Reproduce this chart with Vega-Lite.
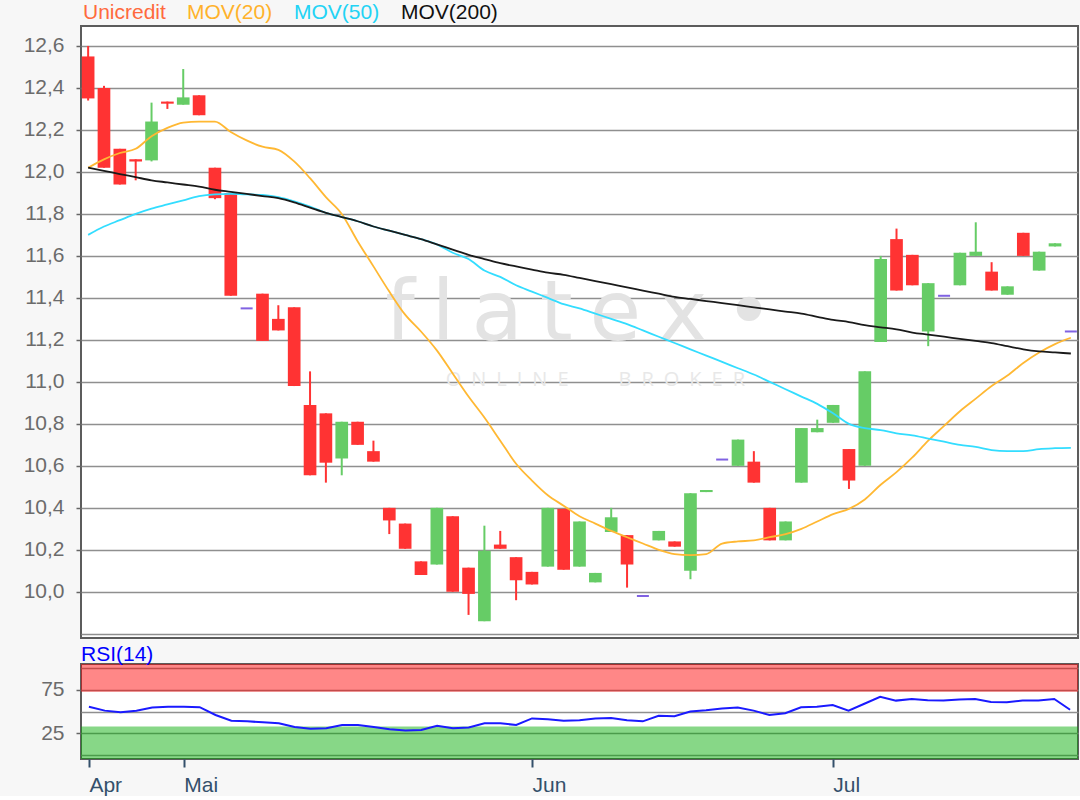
{
  "$schema": "https://vega.github.io/schema/vega-lite/v6.json",
  "background": "#f7f7f7",
  "padding": {"left": 22, "top": 2, "right": 2, "bottom": 0},
  "spacing": 4,
  "config": {
    "font": "Liberation Sans",
    "view": {"fill": "white", "stroke": "#5c5c5c", "strokeWidth": 2},
    "axis": {"labelFont": "Liberation Sans", "labelFontSize": 21, "domain": false, "title": null}
  },
  "datasets": {
    "d": [
      {"date":"2019-04-23","open":12.55,"high":12.6,"low":12.34,"close":12.35,"MOV(20)":12.02,"MOV(50)":11.7,"MOV(200)":12.02,"rsi":55.6},
      {"date":"2019-04-24","open":12.4,"high":12.41,"low":12.02,"close":12.02,"MOV(20)":12.06,"MOV(50)":11.74,"MOV(200)":12.005,"rsi":51},
      {"date":"2019-04-25","open":12.11,"high":12.11,"low":11.94,"close":11.94,"MOV(20)":12.09,"MOV(50)":11.77,"MOV(200)":11.99,"rsi":49},
      {"date":"2019-04-26","open":12.06,"high":12.06,"low":11.96,"close":12.05,"MOV(20)":12.11,"MOV(50)":11.8,"MOV(200)":11.975,"rsi":51},
      {"date":"2019-04-29","open":12.055,"high":12.33,"low":12.05,"close":12.24,"MOV(20)":12.17,"MOV(50)":11.825,"MOV(200)":11.96,"rsi":54.5},
      {"date":"2019-04-30","open":12.335,"high":12.335,"low":12.3,"close":12.325,"MOV(20)":12.21,"MOV(50)":11.845,"MOV(200)":11.95,"rsi":55.5},
      {"date":"2019-05-02","open":12.32,"high":12.49,"low":12.32,"close":12.355,"MOV(20)":12.235,"MOV(50)":11.865,"MOV(200)":11.94,"rsi":55.5},
      {"date":"2019-05-03","open":12.365,"high":12.365,"low":12.27,"close":12.27,"MOV(20)":12.24,"MOV(50)":11.885,"MOV(200)":11.93,"rsi":55},
      {"date":"2019-05-06","open":12.02,"high":12.02,"low":11.87,"close":11.875,"MOV(20)":12.24,"MOV(50)":11.893,"MOV(200)":11.915,"rsi":46},
      {"date":"2019-05-07","open":11.9,"high":11.9,"low":11.41,"close":11.41,"MOV(20)":12.19,"MOV(50)":11.895,"MOV(200)":11.905,"rsi":39.4},
      {"date":"2019-05-08","open":11.35,"high":11.35,"low":11.35,"close":11.35,"MOV(20)":12.15,"MOV(50)":11.893,"MOV(200)":11.895,"rsi":38.6},
      {"date":"2019-05-09","open":11.42,"high":11.42,"low":11.195,"close":11.195,"MOV(20)":12.12,"MOV(50)":11.89,"MOV(200)":11.885,"rsi":37.5},
      {"date":"2019-05-10","open":11.3,"high":11.365,"low":11.245,"close":11.245,"MOV(20)":12.105,"MOV(50)":11.88,"MOV(200)":11.875,"rsi":36.3},
      {"date":"2019-05-13","open":11.355,"high":11.355,"low":10.98,"close":10.98,"MOV(20)":12.05,"MOV(50)":11.86,"MOV(200)":11.855,"rsi":32},
      {"date":"2019-05-14","open":10.89,"high":11.05,"low":10.555,"close":10.555,"MOV(20)":11.97,"MOV(50)":11.835,"MOV(200)":11.83,"rsi":30},
      {"date":"2019-05-15","open":10.85,"high":10.85,"low":10.52,"close":10.615,"MOV(20)":11.88,"MOV(50)":11.805,"MOV(200)":11.805,"rsi":30.5},
      {"date":"2019-05-16","open":10.635,"high":10.81,"low":10.555,"close":10.81,"MOV(20)":11.8,"MOV(50)":11.785,"MOV(200)":11.785,"rsi":34.4},
      {"date":"2019-05-17","open":10.81,"high":10.81,"low":10.7,"close":10.7,"MOV(20)":11.67,"MOV(50)":11.765,"MOV(200)":11.765,"rsi":34.4},
      {"date":"2019-05-20","open":10.67,"high":10.72,"low":10.62,"close":10.62,"MOV(20)":11.55,"MOV(50)":11.74,"MOV(200)":11.74,"rsi":32},
      {"date":"2019-05-21","open":10.4,"high":10.4,"low":10.275,"close":10.34,"MOV(20)":11.43,"MOV(50)":11.72,"MOV(200)":11.72,"rsi":29.5},
      {"date":"2019-05-22","open":10.325,"high":10.325,"low":10.205,"close":10.205,"MOV(20)":11.32,"MOV(50)":11.7,"MOV(200)":11.7,"rsi":28},
      {"date":"2019-05-23","open":10.145,"high":10.145,"low":10.08,"close":10.08,"MOV(20)":11.24,"MOV(50)":11.68,"MOV(200)":11.68,"rsi":28.5},
      {"date":"2019-05-24","open":10.13,"high":10.4,"low":10.13,"close":10.4,"MOV(20)":11.15,"MOV(50)":11.655,"MOV(200)":11.655,"rsi":33.5},
      {"date":"2019-05-27","open":10.36,"high":10.36,"low":10.0,"close":10.0,"MOV(20)":11.04,"MOV(50)":11.615,"MOV(200)":11.63,"rsi":30.5},
      {"date":"2019-05-28","open":10.115,"high":10.115,"low":9.89,"close":9.99,"MOV(20)":10.93,"MOV(50)":11.585,"MOV(200)":11.605,"rsi":31.5},
      {"date":"2019-05-29","open":9.86,"high":10.315,"low":9.86,"close":10.195,"MOV(20)":10.83,"MOV(50)":11.53,"MOV(200)":11.585,"rsi":36.3},
      {"date":"2019-05-30","open":10.225,"high":10.29,"low":10.205,"close":10.205,"MOV(20)":10.72,"MOV(50)":11.5,"MOV(200)":11.565,"rsi":36.3},
      {"date":"2019-05-31","open":10.165,"high":10.165,"low":9.96,"close":10.055,"MOV(20)":10.61,"MOV(50)":11.46,"MOV(200)":11.55,"rsi":34.4},
      {"date":"2019-06-03","open":10.095,"high":10.095,"low":10.035,"close":10.035,"MOV(20)":10.53,"MOV(50)":11.43,"MOV(200)":11.535,"rsi":42},
      {"date":"2019-06-04","open":10.12,"high":10.4,"low":10.12,"close":10.4,"MOV(20)":10.46,"MOV(50)":11.4,"MOV(200)":11.52,"rsi":41},
      {"date":"2019-06-05","open":10.395,"high":10.395,"low":10.105,"close":10.105,"MOV(20)":10.41,"MOV(50)":11.37,"MOV(200)":11.51,"rsi":39.4},
      {"date":"2019-06-06","open":10.12,"high":10.335,"low":10.12,"close":10.335,"MOV(20)":10.36,"MOV(50)":11.35,"MOV(200)":11.495,"rsi":40},
      {"date":"2019-06-07","open":10.045,"high":10.09,"low":10.045,"close":10.09,"MOV(20)":10.325,"MOV(50)":11.325,"MOV(200)":11.48,"rsi":42},
      {"date":"2019-06-11","open":10.285,"high":10.4,"low":10.285,"close":10.355,"MOV(20)":10.29,"MOV(50)":11.3,"MOV(200)":11.465,"rsi":42.5},
      {"date":"2019-06-12","open":10.27,"high":10.27,"low":10.02,"close":10.13,"MOV(20)":10.26,"MOV(50)":11.275,"MOV(200)":11.45,"rsi":40},
      {"date":"2019-06-13","open":9.98,"high":9.98,"low":9.98,"close":9.98,"MOV(20)":10.23,"MOV(50)":11.245,"MOV(200)":11.435,"rsi":38.6},
      {"date":"2019-06-14","open":10.245,"high":10.29,"low":10.245,"close":10.29,"MOV(20)":10.2,"MOV(50)":11.215,"MOV(200)":11.42,"rsi":45},
      {"date":"2019-06-17","open":10.24,"high":10.24,"low":10.215,"close":10.215,"MOV(20)":10.18,"MOV(50)":11.185,"MOV(200)":11.405,"rsi":44.5},
      {"date":"2019-06-18","open":10.1,"high":10.47,"low":10.06,"close":10.47,"MOV(20)":10.175,"MOV(50)":11.155,"MOV(200)":11.395,"rsi":50},
      {"date":"2019-06-19","open":10.475,"high":10.485,"low":10.475,"close":10.485,"MOV(20)":10.18,"MOV(50)":11.125,"MOV(200)":11.385,"rsi":51.5},
      {"date":"2019-06-20","open":10.63,"high":10.63,"low":10.63,"close":10.63,"MOV(20)":10.23,"MOV(50)":11.095,"MOV(200)":11.375,"rsi":53.5},
      {"date":"2019-06-21","open":10.6,"high":10.725,"low":10.6,"close":10.725,"MOV(20)":10.24,"MOV(50)":11.065,"MOV(200)":11.365,"rsi":54.5},
      {"date":"2019-06-24","open":10.62,"high":10.67,"low":10.52,"close":10.52,"MOV(20)":10.245,"MOV(50)":11.035,"MOV(200)":11.355,"rsi":51},
      {"date":"2019-06-25","open":10.4,"high":10.4,"low":10.245,"close":10.245,"MOV(20)":10.26,"MOV(50)":11.0,"MOV(200)":11.345,"rsi":46},
      {"date":"2019-06-26","open":10.245,"high":10.335,"low":10.245,"close":10.335,"MOV(20)":10.275,"MOV(50)":10.965,"MOV(200)":11.335,"rsi":48},
      {"date":"2019-06-27","open":10.52,"high":10.78,"low":10.52,"close":10.78,"MOV(20)":10.3,"MOV(50)":10.93,"MOV(200)":11.325,"rsi":54.9},
      {"date":"2019-06-28","open":10.76,"high":10.82,"low":10.76,"close":10.78,"MOV(20)":10.335,"MOV(50)":10.895,"MOV(200)":11.31,"rsi":55.5},
      {"date":"2019-07-01","open":10.805,"high":10.89,"low":10.805,"close":10.89,"MOV(20)":10.37,"MOV(50)":10.85,"MOV(200)":11.295,"rsi":57.6},
      {"date":"2019-07-02","open":10.68,"high":10.68,"low":10.49,"close":10.53,"MOV(20)":10.395,"MOV(50)":10.8,"MOV(200)":11.285,"rsi":51},
      {"date":"2019-07-03","open":10.6,"high":11.05,"low":10.6,"close":11.05,"MOV(20)":10.44,"MOV(50)":10.78,"MOV(200)":11.27,"rsi":59},
      {"date":"2019-07-04","open":11.19,"high":11.6,"low":11.19,"close":11.585,"MOV(20)":10.51,"MOV(50)":10.77,"MOV(200)":11.26,"rsi":67},
      {"date":"2019-07-05","open":11.68,"high":11.73,"low":11.435,"close":11.435,"MOV(20)":10.57,"MOV(50)":10.755,"MOV(200)":11.25,"rsi":62.6},
      {"date":"2019-07-08","open":11.605,"high":11.605,"low":11.46,"close":11.46,"MOV(20)":10.64,"MOV(50)":10.745,"MOV(200)":11.235,"rsi":64.5},
      {"date":"2019-07-09","open":11.24,"high":11.47,"low":11.17,"close":11.47,"MOV(20)":10.72,"MOV(50)":10.73,"MOV(200)":11.225,"rsi":63},
      {"date":"2019-07-10","open":11.41,"high":11.41,"low":11.41,"close":11.41,"MOV(20)":10.79,"MOV(50)":10.715,"MOV(200)":11.215,"rsi":62.6},
      {"date":"2019-07-11","open":11.46,"high":11.615,"low":11.46,"close":11.615,"MOV(20)":10.86,"MOV(50)":10.7,"MOV(200)":11.205,"rsi":64},
      {"date":"2019-07-12","open":11.6,"high":11.76,"low":11.6,"close":11.62,"MOV(20)":10.92,"MOV(50)":10.69,"MOV(200)":11.195,"rsi":64.5},
      {"date":"2019-07-15","open":11.525,"high":11.57,"low":11.435,"close":11.435,"MOV(20)":10.98,"MOV(50)":10.675,"MOV(200)":11.185,"rsi":61},
      {"date":"2019-07-16","open":11.415,"high":11.455,"low":11.415,"close":11.455,"MOV(20)":11.03,"MOV(50)":10.67,"MOV(200)":11.17,"rsi":60.7},
      {"date":"2019-07-17","open":11.71,"high":11.71,"low":11.6,"close":11.6,"MOV(20)":11.09,"MOV(50)":10.67,"MOV(200)":11.155,"rsi":62.6},
      {"date":"2019-07-18","open":11.53,"high":11.62,"low":11.53,"close":11.62,"MOV(20)":11.14,"MOV(50)":10.68,"MOV(200)":11.145,"rsi":62.6},
      {"date":"2019-07-19","open":11.645,"high":11.66,"low":11.645,"close":11.66,"MOV(20)":11.18,"MOV(50)":10.684,"MOV(200)":11.14,"rsi":64.5},
      {"date":"2019-07-22","open":11.24,"high":11.24,"low":11.24,"close":11.24,"MOV(20)":11.21,"MOV(50)":10.686,"MOV(200)":11.135,"rsi":52}
    ],
    "bands": [
      {"zone": "ob", "lo": 73, "hi": 105},
      {"zone": "os", "lo": -5, "hi": 32.5}
    ],
    "wm1": [{"t": "f\u200a\u200al\u200a\u200aa\u200a\u200at\u200a\u200ae\u200a\u200ax\u200a\u200a\u2022"}],
    "wm2": [{"t": "O\u2002N\u2002L\u2002I\u2002N\u2002E\u2003\u2003\u2002B\u2002R\u2002O\u2002K\u2002E\u2002R"}]
  },
  "vconcat": [
    {
      "width": 997,
      "height": 612,
      "layer": [
        {
          "data": {"name": "wm1"},
          "mark": {"type": "text", "font": "DejaVu Sans", "fontSize": 84, "color": "#e3e3e3", "align": "center", "baseline": "alphabetic"},
          "encoding": {
            "x": {"datum": "2019-06-06", "type": "ordinal", "scale": {"paddingInner": 0.2, "paddingOuter": 0.05}, "axis": null},
            "y": {"datum": 11.2, "type": "quantitative"},
            "text": {"field": "t"}
          }
        },
        {
          "data": {"name": "wm2"},
          "mark": {"type": "text", "font": "Open Sans", "fontSize": 20, "color": "#e8e8e8", "align": "center", "baseline": "middle"},
          "encoding": {
            "x": {"datum": "2019-06-07", "type": "ordinal"},
            "y": {"datum": 11.01, "type": "quantitative"},
            "text": {"field": "t"}
          }
        },
        {
          "data": {"name": "d"},
          "transform": [{"filter": "datum.high > datum.low"}],
          "mark": {"type": "rule", "strokeWidth": 2},
          "encoding": {
            "x": {"field": "date", "type": "ordinal"},
            "y": {"field": "low", "type": "quantitative"},
            "y2": {"field": "high"},
            "color": {"condition": {"test": "datum.close > datum.open", "value": "#66cc66"}, "value": "#ff3333"}
          }
        },
        {
          "data": {"name": "d"},
          "transform": [{"filter": "datum.open != datum.close"}],
          "mark": {"type": "bar"},
          "encoding": {
            "x": {"field": "date", "type": "ordinal"},
            "y": {"field": "open", "type": "quantitative"},
            "y2": {"field": "close"},
            "color": {"condition": {"test": "datum.close > datum.open", "value": "#66cc66"}, "value": "#ff3333"}
          }
        },
        {
          "data": {"name": "d"},
          "transform": [{"filter": "datum.open == datum.close"}],
          "mark": {"type": "tick", "thickness": 2, "size": 12, "color": "#4a1fd6"},
          "encoding": {
            "x": {"field": "date", "type": "ordinal"},
            "y": {"field": "close", "type": "quantitative"}
          }
        },
        {
          "data": {"name": "d"},
          "transform": [{"fold": ["MOV(20)", "MOV(50)", "MOV(200)"], "as": ["series", "val"]}],
          "mark": {"type": "line", "strokeWidth": 1.8, "interpolate": "monotone"},
          "encoding": {
            "x": {"field": "date", "type": "ordinal"},
            "y": {
              "field": "val", "type": "quantitative",
              "scale": {"domain": [9.78, 12.695], "nice": false, "zero": false},
              "axis": {
                "values": [9.8, 10, 10.2, 10.4, 10.6, 10.8, 11, 11.2, 11.4, 11.6, 11.8, 12, 12.2, 12.4, 12.6],
                "labelExpr": "datum.value < 9.9 ? '' : replace(format(datum.value, '.1f'), '.', ',')",
                "grid": true, "gridColor": "#8f8f8f", "gridWidth": 1.5,
                "tickColor": {"condition": {"test": "datum.value < 9.9", "value": "transparent"}, "value": "#666666"},
                "tickSize": 5, "tickWidth": 1.5, "labelPadding": 12, "labelColor": "#6b6b6b",
                "minExtent": 58, "maxExtent": 58
              }
            },
            "color": {
              "field": "series", "type": "nominal",
              "scale": {"domain": ["Unicredit", "MOV(20)", "MOV(50)", "MOV(200)"], "range": ["#ff6a3d", "#ffb833", "#33ddff", "#1a1a1a"]},
              "legend": {
                "orient": "none", "legendX": -19, "legendY": -24, "direction": "horizontal", "title": null,
                "symbolSize": 0, "symbolStrokeWidth": 0, "symbolOpacity": 0, "labelOffset": 0, "columnPadding": -11,
                "labelFontSize": 21, "labelFont": "Liberation Sans", "labelLimit": 0,
                "encode": {"labels": {"update": {"fill": {"signal": "datum.value === 'Unicredit' ? '#ff6a3d' : datum.value === 'MOV(20)' ? '#ffb22b' : datum.value === 'MOV(50)' ? '#22d3f5' : '#111111'"}}}}
              }
            }
          }
        }
      ]
    },
    {
      "width": 997,
      "height": 95,
      "title": {"text": "RSI(14)", "anchor": "start", "frame": "group", "color": "#0000ff", "fontSize": 21, "fontWeight": "normal", "font": "Liberation Sans", "offset": -8},
      "layer": [
        {
          "data": {"name": "bands"},
          "mark": {"type": "rect", "opacity": 0.47},
          "encoding": {
            "y": {
              "field": "lo", "type": "quantitative",
              "scale": {"domain": [-5, 105], "nice": false, "zero": false},
              "axis": {
                "values": [0, 25, 50, 75, 100],
                "labelExpr": "datum.value == 25 || datum.value == 75 ? '' + datum.value : ''",
                "labelOverlap": false,
                "grid": true, "gridColor": "#8f8f8f", "gridWidth": 1.5,
                "tickColor": {"condition": {"test": "datum.value == 25 || datum.value == 75", "value": "#666666"}, "value": "transparent"},
                "tickSize": 5, "tickWidth": 1.5, "labelPadding": 12, "labelColor": "#6b6b6b",
                "minExtent": 58, "maxExtent": 58
              }
            },
            "y2": {"field": "hi"},
            "color": {"condition": {"test": "datum.zone == 'ob'", "value": "#ff0000"}, "value": "#00aa00"}
          }
        },
        {
          "data": {"name": "d"},
          "mark": {"type": "line", "color": "#1a1aff", "strokeWidth": 2},
          "encoding": {
            "x": {
              "field": "date", "type": "ordinal",
              "scale": {"paddingInner": 0.2, "paddingOuter": 0.05},
              "axis": {
                "values": ["2019-04-23", "2019-05-02", "2019-06-03", "2019-07-01"],
                "labelExpr": "datum.value == '2019-04-23' ? 'Apr' : datum.value == '2019-05-02' ? 'Mai' : datum.value == '2019-06-03' ? 'Jun' : 'Jul'",
                "labelAngle": 0, "labelAlign": "left", "labelColor": "#34506b",
                "tickColor": "#34506b", "tickSize": 8, "tickWidth": 2, "labelPadding": 7, "grid": false
              }
            },
            "y": {
              "field": "rsi", "type": "quantitative",
              "axis": {
                "values": [0, 25, 50, 75, 100],
                "labelExpr": "datum.value == 25 || datum.value == 75 ? '' + datum.value : ''",
                "labelOverlap": false,
                "grid": true, "gridColor": "#8f8f8f", "gridWidth": 1.5,
                "tickColor": {"condition": {"test": "datum.value == 25 || datum.value == 75", "value": "#666666"}, "value": "transparent"},
                "tickSize": 5, "tickWidth": 1.5, "labelPadding": 12, "labelColor": "#6b6b6b",
                "minExtent": 58, "maxExtent": 58
              }
            }
          }
        }
      ]
    }
  ]
}
